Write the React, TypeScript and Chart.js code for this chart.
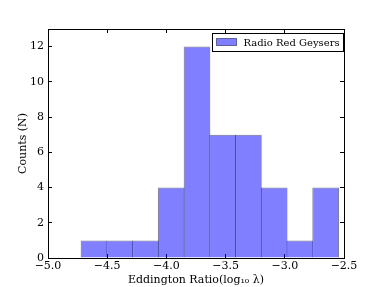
import React, { useEffect, useRef } from "react";
import { Chart, registerables } from "chart.js";

Chart.register(...registerables);

const binEdges = [-4.72, -4.503, -4.285, -4.068, -3.85, -3.633, -3.416, -3.198, -2.981, -2.764, -2.546];
const counts = [1, 1, 1, 4, 12, 7, 7, 4, 1, 4];
const seriesLabel = "Radio Red Geysers";
const xTitle = "Eddington Ratio(log\u2081\u2080 \u03bb)";
const yTitle = "Counts (N)";

const FONT = "'DejaVu Serif', serif";
const FACE = "rgba(0,0,255,0.5)";
const EDGE = "rgba(0,0,60,0.5)";

const legendPlugin = {
  id: "innerLegend",
  afterDraw(chart: any) {
    const { ctx, chartArea } = chart;
    const ds = chart.data.datasets[0];
    const w = 131;
    const h = 18;
    const x = Math.round(chartArea.right) - w - 0.5;
    const y = Math.round(chartArea.top) + 4.5;
    ctx.save();
    ctx.fillStyle = "#ffffff";
    ctx.fillRect(x, y, w, h);
    ctx.strokeStyle = "#000000";
    ctx.lineWidth = 1;
    ctx.strokeRect(x, y, w, h);
    ctx.fillStyle = ds.backgroundColor;
    ctx.fillRect(x + 4, y + 5, 20, 7);
    ctx.strokeStyle = EDGE;
    ctx.strokeRect(x + 4, y + 5, 20, 7);
    ctx.fillStyle = "#000000";
    ctx.font = `10px ${FONT}`;
    ctx.textBaseline = "middle";
    ctx.textAlign = "left";
    ctx.fillText(ds.label, x + 31, y + h / 2 + 0.5);
    ctx.restore();
  },
};

const fmt = (v: number) => (v < 0 ? "\u2212" : "") + Math.abs(v).toFixed(1);

export default function App() {
  const ref = useRef<HTMLCanvasElement>(null);
  useEffect(() => {
    document.body.style.margin = "0";
    Chart.defaults.font.family = FONT;
    Chart.defaults.color = "#000000";
    const centers = counts.map((_, i) => (binEdges[i] + binEdges[i + 1]) / 2);
    const last = counts.length - 1;
    const chart = new Chart(ref.current as HTMLCanvasElement, {
      type: "bar",
      data: {
        datasets: [
          {
            label: seriesLabel,
            data: counts.map((c, i) => ({ x: centers[i], y: c })),
            backgroundColor: FACE,
            borderColor: EDGE,
            borderWidth: (c: any) => ({ top: 1, left: 1, right: c.dataIndex === last ? 1 : 0, bottom: 0 }),
            borderSkipped: false,
            barPercentage: 1.04,
            categoryPercentage: 1,
          } as any,
        ],
      },
      options: {
        animation: false,
        responsive: true,
        maintainAspectRatio: false,
        layout: { padding: 0 },
        plugins: { legend: { display: false }, tooltip: { enabled: false } },
        scales: {
          x: {
            type: "linear",
            position: "bottom",
            offset: false,
            min: -5,
            max: -2.5,
            afterFit: (s: any) => { s.height = 29; },
            ticks: { stepSize: 0.5, callback: (v: any) => fmt(Number(v)), padding: 6, font: { size: 11 }, maxRotation: 0, autoSkip: false },
            grid: { offset: false, drawOnChartArea: false, tickLength: -4, color: "#000", tickWidth: 1 },
            border: { color: "#000", width: 1 },
            title: { display: true, text: xTitle, font: { size: 11 }, padding: { top: 0, bottom: 0 } },
          },
          x2: {
            type: "linear",
            position: "top",
            offset: false,
            min: -5,
            max: -2.5,
            afterFit: (s: any) => { s.height = 29; },
            ticks: { stepSize: 0.5, display: false },
            grid: { offset: false, drawOnChartArea: false, tickLength: -4, color: "#000" },
            border: { color: "#000", width: 1 },
          },
          y: {
            type: "linear",
            position: "left",
            min: 0,
            max: 13,
            afterFit: (s: any) => { s.width = 48; },
            ticks: { stepSize: 2, includeBounds: false, padding: 8, font: { size: 11 } },
            grid: { drawOnChartArea: false, tickLength: -4, color: "#000" },
            border: { color: "#000", width: 1 },
            title: { display: true, text: yTitle, font: { size: 11 }, padding: { top: 17, bottom: 0 } },
          },
          y2: {
            type: "linear",
            position: "right",
            min: 0,
            max: 13,
            afterFit: (s: any) => { s.width = 38; },
            ticks: { stepSize: 2, includeBounds: false, display: false },
            grid: { drawOnChartArea: false, tickLength: -4, color: "#000" },
            border: { color: "#000", width: 1 },
          },
        },
      } as any,
      plugins: [legendPlugin],
    });
    return () => chart.destroy();
  }, []);
  return (
    <div style={{ width: 382, height: 287, position: "relative" }}>
      <canvas ref={ref} />
    </div>
  );
}
